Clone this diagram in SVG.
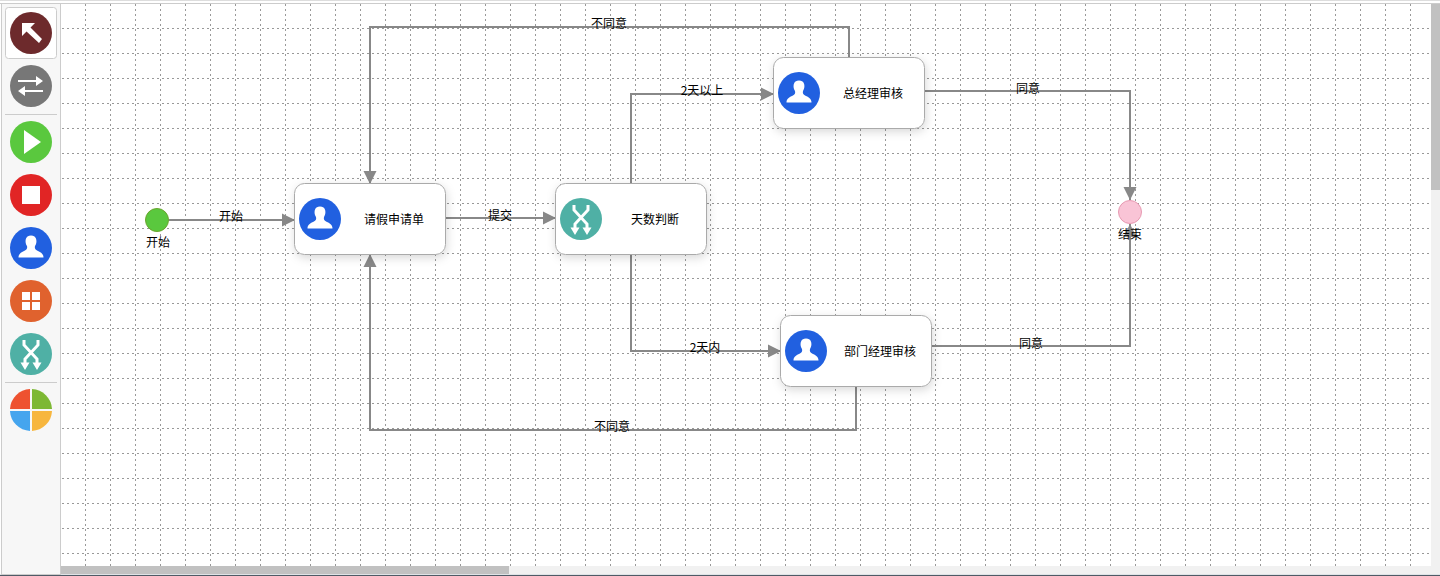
<svg xmlns="http://www.w3.org/2000/svg" width="1440" height="576" viewBox="0 0 1440 576">
<style>
text{font-family:"Noto Sans CJK SC","Liberation Sans",sans-serif;font-size:12px;fill:#000;text-anchor:middle;dominant-baseline:central}
.edge{fill:none;stroke:#888;stroke-width:2}
.card{fill:#fff;stroke:#aaa;stroke-width:1;filter:url(#sh)}
.w{fill:#fff}
.wl{fill:none;stroke:#fff;stroke-width:2}
</style>
<defs>
<filter id="sh" x="-20%" y="-30%" width="140%" height="160%"><feDropShadow dx="1" dy="3" stdDeviation="5" flood-color="#000" flood-opacity="0.15"/></filter>
<marker id="arr" markerUnits="userSpaceOnUse" markerWidth="14" markerHeight="14" refX="13" refY="7" orient="auto"><path d="M0 0.500L13 7L0 13.500Z" fill="#888"/></marker>
<g id="user"><path class="w" d="M-3.500 -11.500C-6 -9.500 -6 -5 -4 -2C-3.500 0 -4 1.500 -6.500 2.800C-9.500 4.300 -12.500 5.500 -12.500 9.500H12.500C12.500 5.500 9.500 4.300 6.500 2.800C4 1.500 3.500 0 4 -2C6 -5 6 -9.500 3.500 -11.500C1.500 -13 -1.500 -13 -3.500 -11.500Z"/></g>
<g id="fork"><path d="M-7 -14V-9L6 5V11M7 -14V-9L-6 5V11" fill="none" stroke="#fff" stroke-width="3"/><path class="w" d="M-10.500 8.500L-1.500 8.500L-6 16ZM10.500 8.500L1.500 8.500L6 16Z"/></g>
</defs>
<rect width="1440" height="576" fill="#fff"/>
<g id="grid" stroke="#999" stroke-width="1" stroke-dasharray="2 3">
<path d="M85.500 4V566M110.500 4V566M135.500 4V566M160.500 4V566M185.500 4V566M210.500 4V566M235.500 4V566M260.500 4V566M285.500 4V566M310.500 4V566M335.500 4V566M360.500 4V566M385.500 4V566M410.500 4V566M435.500 4V566M460.500 4V566M485.500 4V566M510.500 4V566M535.500 4V566M560.500 4V566M585.500 4V566M610.500 4V566M635.500 4V566M660.500 4V566M685.500 4V566M710.500 4V566M735.500 4V566M760.500 4V566M785.500 4V566M810.500 4V566M835.500 4V566M860.500 4V566M885.500 4V566M910.500 4V566M935.500 4V566M960.500 4V566M985.500 4V566M1010.500 4V566M1035.500 4V566M1060.500 4V566M1085.500 4V566M1110.500 4V566M1135.500 4V566M1160.500 4V566M1185.500 4V566M1210.500 4V566M1235.500 4V566M1260.500 4V566M1285.500 4V566M1310.500 4V566M1335.500 4V566M1360.500 4V566M1385.500 4V566M1410.500 4V566"/>
<path d="M62 28.500H1430M62 53.500H1430M62 78.500H1430M62 103.500H1430M62 128.500H1430M62 153.500H1430M62 178.500H1430M62 203.500H1430M62 228.500H1430M62 253.500H1430M62 278.500H1430M62 303.500H1430M62 328.500H1430M62 353.500H1430M62 378.500H1430M62 403.500H1430M62 428.500H1430M62 453.500H1430M62 478.500H1430M62 503.500H1430M62 528.500H1430M62 553.500H1430"/>
</g>
<g id="frame">
<rect x="0" y="0" width="1440" height="1" fill="#ddd"/>
<rect x="0" y="3" width="1440" height="1" fill="#ccc"/>
<rect x="1431" y="4" width="9" height="562" fill="#f1f1f1"/>
<rect x="1431" y="4" width="9" height="186" fill="#c1c1c1"/>
<rect x="61" y="566" width="1379" height="8" fill="#f1f1f1"/>
<rect x="61" y="566" width="448" height="8" fill="#c1c1c1"/>
<rect x="0" y="574" width="1440" height="1" fill="#dfe3e6"/>
<rect x="0" y="575" width="1440" height="1" fill="#4f5b66"/>
</g>
<g id="toolbar">
<rect x="1.500" y="3.500" width="59" height="571" fill="#f7f7f7" stroke="#ccc"/>
<rect x="5.500" y="7.500" width="51" height="51" rx="3" fill="#fff" stroke="#ccc"/>
<path d="M5 114.500H57M5 382.500H57" stroke="#ccc"/>
<g id="tool-select"><circle cx="31" cy="33" r="21" fill="#6d2a2c"/><path class="w" d="M22 23H35L30.500 27.500L42 39L39 43L26.500 31.500L22 36Z"/></g>
<g id="tool-swap"><circle cx="31" cy="86" r="21" fill="#777"/><path d="M18 81H40M20 91H43" class="wl"/><path class="w" d="M36 76L43 81L36 86ZM25 86L18 91L25 96Z"/></g>
<g id="tool-start"><circle cx="31" cy="142" r="21" fill="#5ac83e"/><path class="w" d="M24 130L41 142L24 154Z"/></g>
<g id="tool-end"><circle cx="31" cy="195" r="21" fill="#e12525"/><rect class="w" x="22" y="186" width="18" height="18"/></g>
<g id="tool-task"><circle cx="31" cy="248" r="21" fill="#2160e0"/><use href="#user" x="31" y="248"/></g>
<g id="tool-sub"><circle cx="31" cy="301" r="21" fill="#e0622e"/><path class="w" d="M22 292H30V300H22ZM32 292H40V300H32ZM22 302H30V310H22ZM32 302H40V310H32Z"/></g>
<g id="tool-gateway"><circle cx="31" cy="354" r="21" fill="#4fb0a5"/><use href="#fork" x="31" y="354"/></g>
<g id="tool-palette">
<path d="M30 409H10A21 21 0 0 1 30 389Z" fill="#ee5230"/>
<path d="M32 409V389A21 21 0 0 1 52 409Z" fill="#7db834"/>
<path d="M30 411V431A21 21 0 0 1 10 411Z" fill="#45a5ee"/>
<path d="M32 411H52A21 21 0 0 1 32 431Z" fill="#f7b63e"/>
</g>
</g>
<g id="connectors">
<path class="edge" marker-end="url(#arr)" d="M169 220H295"/>
<path class="edge" marker-end="url(#arr)" d="M445 218H556"/>
<path class="edge" marker-end="url(#arr)" d="M631 183V94H774"/>
<path class="edge" marker-end="url(#arr)" d="M631 254V351H781"/>
<path class="edge" marker-end="url(#arr)" d="M924 91H1130V200"/>
<path class="edge" marker-end="url(#arr)" d="M931 346H1130V224"/>
<path class="edge" marker-end="url(#arr)" d="M849 57V27H370V184"/>
<path class="edge" marker-end="url(#arr)" d="M856 386V430H370V254"/>
<text x="231" y="215">开始</text>
<text x="500" y="214">提交</text>
<text x="702" y="89">2天以上</text>
<text x="705" y="346">2天内</text>
<text x="1028" y="87">同意</text>
<text x="1031" y="342">同意</text>
<text x="609" y="22">不同意</text>
<text x="612" y="425">不同意</text>
</g>
<g id="node-start"><circle cx="157" cy="220" r="11.500" fill="#5ac83e" stroke="#6aa52e"/><text x="158" y="241">开始</text></g>
<g id="node-apply"><rect class="card" x="294.500" y="183.500" width="151" height="71" rx="10"/><circle cx="320" cy="219" r="21" fill="#2160e0"/><use href="#user" x="320" y="219"/><text x="394" y="218">请假申请单</text></g>
<g id="node-judge"><rect class="card" x="555.500" y="183.500" width="151" height="71" rx="10"/><circle cx="581" cy="219" r="21" fill="#4fb0a5"/><use href="#fork" x="581" y="219"/><text x="655" y="218">天数判断</text></g>
<g id="node-gm"><rect class="card" x="773.500" y="57.500" width="151" height="71" rx="10"/><circle cx="799" cy="93" r="21" fill="#2160e0"/><use href="#user" x="799" y="93"/><text x="873" y="92">总经理审核</text></g>
<g id="node-dept"><rect class="card" x="780.500" y="315.500" width="151" height="71" rx="10"/><circle cx="806" cy="351" r="21" fill="#2160e0"/><use href="#user" x="806" y="351"/><text x="880" y="350">部门经理审核</text></g>
<g id="node-end"><circle cx="1130" cy="212" r="11.500" fill="#f9c4d6" stroke="#e79ab2"/><text x="1130" y="233">结束</text></g>
</svg>
